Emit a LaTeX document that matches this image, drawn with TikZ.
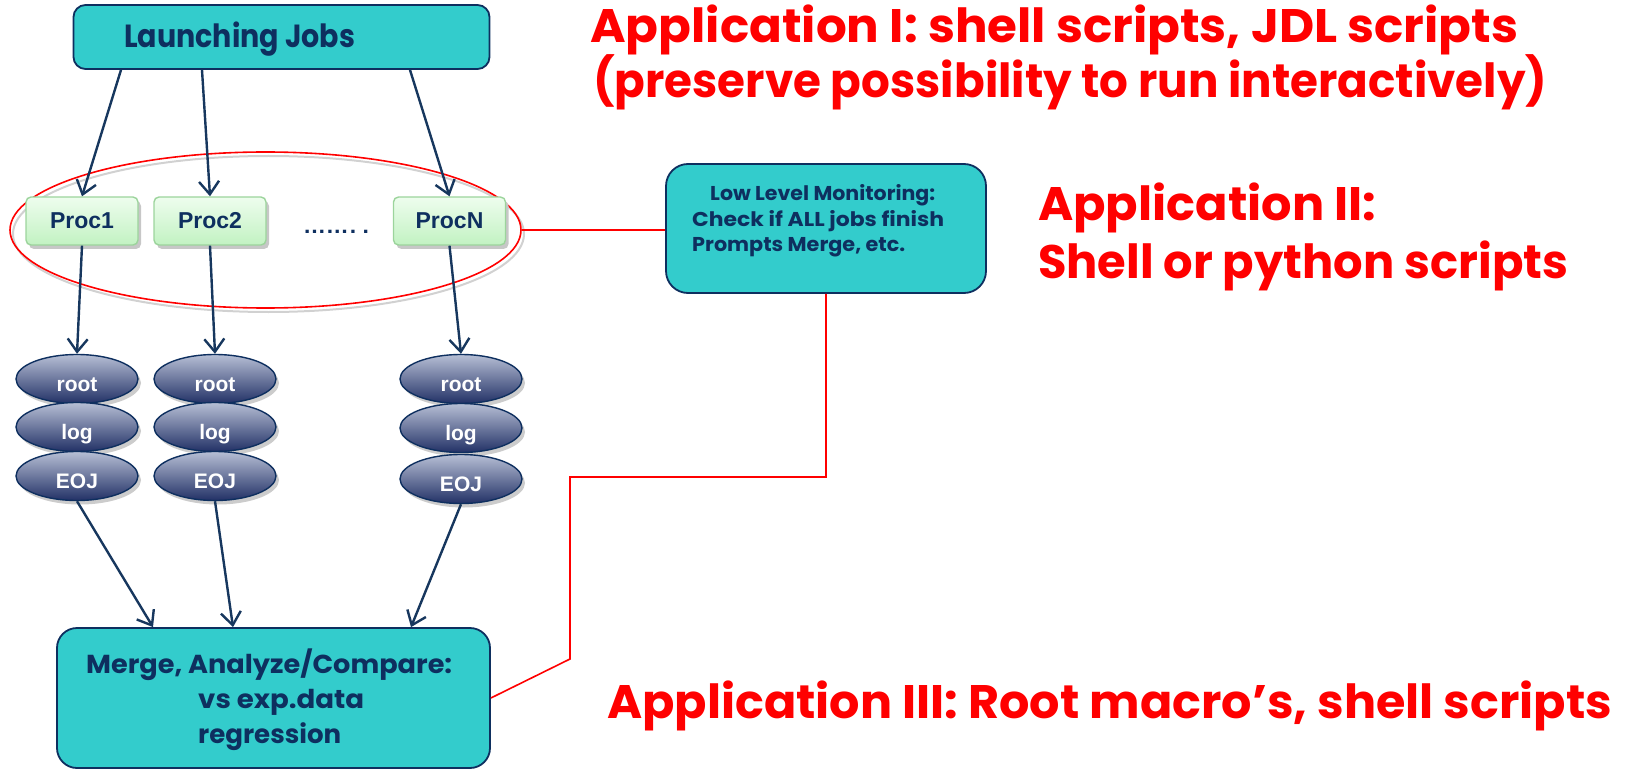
\documentclass[tikz,border=0pt]{standalone}
\usepackage{fontspec}
\usepackage{graphicx}
\setmainfont{Liberation Sans}
\newfontfamily\comic{Poppins}
\usetikzlibrary{arrows.meta,shapes.geometric,shadows,calc}
\definecolor{tealc}{HTML}{33CCCC}
\definecolor{navy}{HTML}{0E2F5F}
\definecolor{arrowc}{HTML}{17375E}
\definecolor{procTop}{HTML}{EEFDEE}
\definecolor{procBot}{HTML}{C2F2C2}
\definecolor{procBorder}{HTML}{9CD49C}
\definecolor{ellTop}{HTML}{B7BFD5}
\definecolor{ellBot}{HTML}{223166}
\definecolor{redc}{HTML}{FF0000}
\newcommand{\fitw}[2]{\resizebox{#1}{\height}{#2}}
\tikzset{
  tealbox/.style={draw=navy, line width=1.8pt, fill=tealc, inner sep=0pt},
  procbox/.style={draw=procBorder, line width=1.4pt, top color=procTop, bottom color=procBot,
    rounded corners=5pt, minimum width=112pt, minimum height=48pt, inner sep=0pt,
    font=\fontsize{23}{23}\selectfont\bfseries, text=navy,
    drop shadow={shadow xshift=3pt, shadow yshift=-4pt, fill=black!22, opacity=1}},
  fileell/.style={ellipse, draw=navy, line width=1.4pt, top color=ellTop, bottom color=ellBot,
    minimum width=122pt, minimum height=49pt, inner sep=0pt,
    font=\fontsize{21}{21}\selectfont\bfseries, text=white, text height=14pt, text depth=4pt,
    drop shadow={shadow xshift=3pt, shadow yshift=-4pt, fill=black!20, opacity=1}},
  arr/.style={draw=arrowc, line width=2.4pt, -{Straight Barb[length=13pt,width=20pt]}},
  redline/.style={draw=redc, line width=1.6pt},
  txt/.style={inner sep=0pt, anchor=base west},
  redtxt/.style={txt, text=redc, font=\comic\bfseries\fontsize{47}{50}\selectfont},
}
\begin{document}
\begin{tikzpicture}[x=1pt, y=-1pt]
\useasboundingbox (0,0) rectangle (1628,770);

% red group ellipse with faint shadow
\draw[black!18, line width=2pt] (268.5,234) ellipse [x radius=255.5, y radius=78];
\node[ellipse, draw=redc, line width=1.6pt, minimum width=511pt, minimum height=156pt, inner sep=0pt] (group) at (265.5,230) {};

% Launching jobs
\node[tealbox, rounded corners=12pt, minimum width=416pt, minimum height=64pt] (launch) at (281.5,37) {};
\node[txt, text=navy, font=\comic\bfseries\fontsize{32}{32}\selectfont] (launchtxt) at (124,48) {\fitw{231pt}{Launching Jobs}};

% processes
\node[procbox] (proc1) at (82,221) {\raisebox{-2pt}{Proc1}};
\node[procbox] (proc2) at (210,221) {\raisebox{-2pt}{Proc2}};
\node[procbox] (procN) at (449.5,221) {\raisebox{-2pt}{ProcN}};
\node[inner sep=0pt, text=navy, font=\fontsize{22}{22}\selectfont\bfseries] (dots) at (336,232) {\fitw{66pt}{……\kern1pt.\kern6pt.}};

% file stacks
\node[fileell] (r1) at (77,379) {\raisebox{-7pt}{root}};
\node[fileell] (l1) at (77,427) {\raisebox{-7pt}{log}};
\node[fileell] (e1) at (77,476) {\raisebox{-7pt}{EOJ}};
\node[fileell] (r2) at (215,379) {\raisebox{-7pt}{root}};
\node[fileell] (l2) at (215,427) {\raisebox{-7pt}{log}};
\node[fileell] (e2) at (215,476) {\raisebox{-7pt}{EOJ}};
\node[fileell] (rN) at (461,379) {\raisebox{-7pt}{root}};
\node[fileell] (lN) at (461,428) {\raisebox{-7pt}{log}};
\node[fileell] (eN) at (461,479) {\raisebox{-7pt}{EOJ}};

% merge box
\node[tealbox, rounded corners=20pt, minimum width=433pt, minimum height=140pt] (merge) at (273.5,698) {};
\node[txt, text=navy, font=\comic\bfseries\fontsize{26}{26}\selectfont] (merge1) at (86,673) {\fitw{366pt}{Merge, Analyze/Compare:}};
\node[txt, text=navy, font=\comic\bfseries\fontsize{26}{26}\selectfont] (merge2) at (198,708) {\fitw{166pt}{vs exp.data}};
\node[txt, text=navy, font=\comic\bfseries\fontsize{26}{26}\selectfont] (merge3) at (198,743) {\fitw{143pt}{regression}};

% monitor box
\node[tealbox, rounded corners=22pt, minimum width=320pt, minimum height=129pt] (mon) at (826,228.5) {};
\node[txt, text=navy, font=\comic\bfseries\fontsize{20}{20}\selectfont] (mon1) at (710,201) {\fitw{225pt}{Low Level Monitoring:}};
\node[txt, text=navy, font=\comic\bfseries\fontsize{20}{20}\selectfont] (mon2) at (692,227) {\fitw{252pt}{Check if ALL jobs finish}};
\node[txt, text=navy, font=\comic\bfseries\fontsize{20}{20}\selectfont] (mon3) at (692,252) {\fitw{213pt}{Prompts Merge, etc.}};

% arrows
\draw[arr] ([xshift=-160.5pt]launch.south) -- (proc1.north);
\draw[arr] ([xshift=-79.5pt]launch.south) -- (proc2.north);
\draw[arr] ([xshift=128.5pt]launch.south) -- (procN.north);
\draw[arr] (proc1.south) -- (r1.north);
\draw[arr] (proc2.south) -- (r2.north);
\draw[arr] (procN.south) -- (rN.north);
\draw[arr] (e1.south) -- ([xshift=-120.5pt]merge.north);
\draw[arr] (e2.south) -- ([xshift=-40.5pt]merge.north);
\draw[arr] (eN.south) -- ([xshift=137.5pt]merge.north);

% red connectors
\coordinate (k1) at (570,477);
\coordinate (k2) at (570,659);
\draw[redline] (group.east) -- (group.east -| mon.west);
\draw[redline] (mon.south) |- (k1) -- (k2) -- (merge.east);

% red texts
\node[redtxt] (app1a) at (590,43) {\fitw{928pt}{Application I: shell scripts, JDL scripts}};
\node[redtxt] (app1b) at (593,98) {\fitw{954pt}{(preserve possibility to run interactively)}};
\node[redtxt] (app2a) at (1038,221) {\fitw{338pt}{Application II:}};
\node[redtxt] (app2b) at (1038,279) {\fitw{530pt}{Shell or python scripts}};
\node[redtxt] (app3) at (607,718) {\fitw{1005pt}{Application III: Root macro’s, shell scripts}};
\end{tikzpicture}
\end{document}
